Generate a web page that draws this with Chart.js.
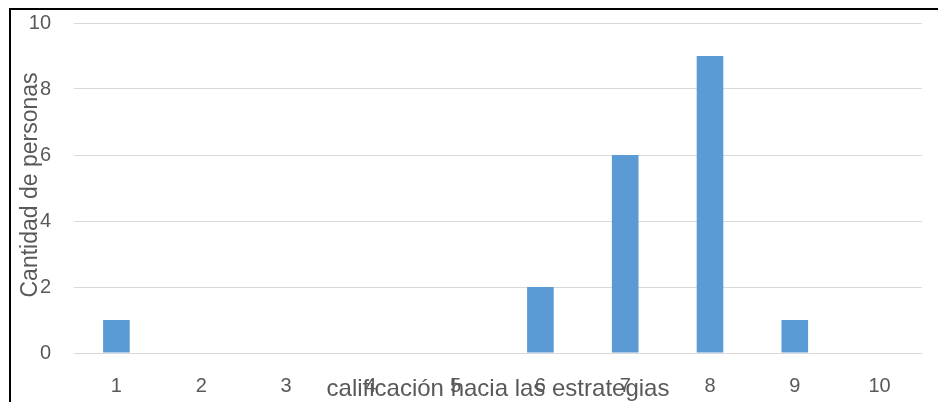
<!DOCTYPE html>
<html>
<head>
<meta charset="utf-8">
<script src="https://cdn.jsdelivr.net/npm/chart.js@4"></script>
<style>
    html, body { margin: 0; padding: 0; background: #fff; }
    #wrap { position: relative; width: 938px; height: 402px; overflow: hidden; }
</style>
</head>
<body>
<div id="wrap"><canvas id="chart" width="938" height="402"></canvas></div>
<script>
// Data
const categories = ['1', '2', '3', '4', '5', '6', '7', '8', '9', '10'];
const personas = [1, 0, 0, 0, 0, 2, 6, 9, 1, 0];
const yTicks = [0, 2, 4, 6, 8, 10];

const xTitle = 'calificación hacia las estrategias';
const yTitle = 'Cantidad de personas';
const textColor = '#595959';
const fontFamily = "'Liberation Sans', Arial, sans-serif";

// Frame + axis titles drawn on top (they overlap the tick labels in the original)
const overlayPlugin = {
    id: 'overlay',
    afterDraw(chart) {
        const ctx = chart.ctx;
        ctx.save();
        ctx.strokeStyle = '#000';
        ctx.lineWidth = 2;
        ctx.beginPath();
        ctx.moveTo(10, 402);
        ctx.lineTo(10, 9);
        ctx.lineTo(940, 9);
        ctx.stroke();

        ctx.fillStyle = textColor;
        ctx.textAlign = 'center';
        ctx.textBaseline = 'middle';
        ctx.font = '24px ' + fontFamily;
        ctx.fillText(xTitle, 498, 389);

        ctx.font = '23px ' + fontFamily;
        ctx.translate(31, 185);
        ctx.rotate(-Math.PI / 2);
        ctx.fillText(yTitle, 0, 0);
        ctx.restore();
    }
};

new Chart(document.getElementById('chart').getContext('2d'), {
    type: 'bar',
    data: {
        labels: categories,
        datasets: [{
            data: personas,
            backgroundColor: '#5B9BD5',
            borderWidth: 0,
            barPercentage: 0.314,
            categoryPercentage: 1
        }]
    },
    options: {
        responsive: false,
        animation: false,
        events: [],
        layout: { padding: { top: 23, right: 16, left: 0, bottom: 0 } },
        plugins: { legend: { display: false }, tooltip: { enabled: false } },
        scales: {
            x: {
                grid: { display: false, drawTicks: false },
                border: { display: false },
                ticks: { color: textColor, padding: 21, font: { size: 20, family: fontFamily } },
                afterFit(scale) { scale.height = 49; scale.paddingLeft = 0; scale.paddingRight = 0; }
            },
            y: {
                min: 0,
                max: 10,
                afterBuildTicks(scale) { scale.ticks = yTicks.map(v => ({ value: v })); },
                grid: { color: '#D9D9D9', lineWidth: 1, drawTicks: false },
                border: { display: false },
                ticks: { color: textColor, padding: 23, font: { size: 20, family: fontFamily } },
                afterFit(scale) { scale.width = 74; scale.paddingTop = 0; scale.paddingBottom = 0; }
            }
        }
    },
    plugins: [overlayPlugin]
});
</script>
</body>
</html>
